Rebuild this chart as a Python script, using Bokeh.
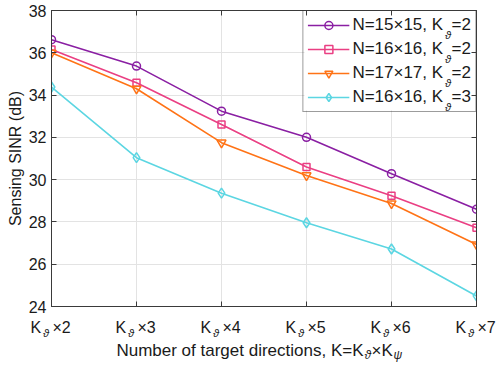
from bokeh.plotting import figure
from bokeh.layouts import column
from bokeh.models import (Range1d, FixedTicker, LinearAxis, Label, Legend, LegendItem,
                          BoxAnnotation)
from bokeh.embed import file_html
from bokeh.resources import INLINE

# ---- data ----
k_psi_values = [2, 3, 4, 5, 6, 7]
tick_labels_suffix = ["\u00d72", "\u00d73", "\u00d74", "\u00d75", "\u00d76", "\u00d77"]
y_ticks = [24, 26, 28, 30, 32, 34, 36, 38]

sinr_n15_k2 = [36.62, 35.37, 33.24, 32.00, 30.28, 28.60]
sinr_n16_k2 = [36.15, 34.58, 32.61, 30.60, 29.24, 27.72]
sinr_n17_k2 = [36.00, 34.30, 31.75, 30.20, 28.87, 26.93]
sinr_n16_k3 = [34.38, 31.04, 29.36, 27.96, 26.72, 24.50]

legend_n = ["N=15\u00d715, K", "N=16\u00d716, K", "N=17\u00d717, K", "N=16\u00d716, K"]
legend_k = ["=2", "=2", "=2", "=3"]

FONT = "Liberation Sans"
TXT = "#1a1a1a"
AX = "#3a3a3a"
W, H = 498, 366
BL, BR, BT, BB = 51, 22, 10, 10
FH = 296
PH = BT + FH + BB
FW = W - BL - BR
XH = H - PH
px = 5.0 / FW    # x data units per pixel
py = 14.0 / FH   # y data units per pixel

p = figure(width=W, height=PH, x_range=Range1d(2, 7), y_range=Range1d(24, 38),
           output_backend="svg", toolbar_location=None,
           min_border_left=BL, min_border_right=BR, min_border_top=BT, min_border_bottom=BB)
p.frame_align = False
p.title.visible = False
p.background_fill_color = "white"
p.outline_line_color = AX
p.outline_line_width = 1

for ax in (p.xaxis[0], p.yaxis[0]):
    ax.axis_line_color = AX
    ax.major_tick_line_color = AX
    ax.major_tick_in = 5
    ax.major_tick_out = 0
    ax.minor_tick_line_color = None
    ax.major_label_text_font = FONT
    ax.major_label_text_color = TXT

p.xaxis.ticker = FixedTicker(ticks=k_psi_values)
p.xaxis.major_label_text_font_size = "0px"
p.xaxis.major_label_text_color = None
p.xaxis.major_label_standoff = 0
p.yaxis.ticker = FixedTicker(ticks=y_ticks)
p.yaxis.major_label_text_font_size = "16px"
p.yaxis.major_label_standoff = 5
p.yaxis.axis_label = "Sensing SINR (dB)"
p.yaxis.axis_label_text_font = FONT
p.yaxis.axis_label_text_font_size = "16px"
p.yaxis.axis_label_text_font_style = "normal"
p.yaxis.axis_label_text_color = TXT
p.yaxis.axis_label_standoff = 2

p.xgrid.ticker = FixedTicker(ticks=k_psi_values)
p.ygrid.ticker = FixedTicker(ticks=y_ticks)
for g in (p.xgrid[0], p.ygrid[0]):
    g.grid_line_color = "#e3e3e3"
    g.grid_line_width = 1

# box ticks on top/right
for place, ticks in (("right", y_ticks), ("above", k_psi_values)):
    a = LinearAxis(ticker=FixedTicker(ticks=ticks), major_label_text_font_size="0px",
                   major_label_text_color=None,
                   major_label_standoff=0, major_tick_in=5, major_tick_out=0,
                   minor_tick_line_color=None, axis_line_color=AX, major_tick_line_color=AX)
    p.add_layout(a, place)

# white backing for the legend (legend itself is drawn transparent so subscripts show)
LW, LH = 172, 100
p.add_layout(BoxAnnotation(left=7 - LW * px, right=7, bottom=38 - LH * py, top=38,
                           fill_color="white", fill_alpha=1, line_color=None,
                           level="underlay"))

colors = ["#8a1fa3", "#ea3f83", "#ff7316", "#5cd6e2"]
markers = ["circle", "square", "inverted_triangle", "diamond"]
sizes = [8, 7, 9, 10]
series = [sinr_n15_k2, sinr_n16_k2, sinr_n17_k2, sinr_n16_k3]

items = []
for ys, c, m, s, ln, lk in zip(series, colors, markers, sizes, legend_n, legend_k):
    r1 = p.line(k_psi_values, ys, line_color=c, line_width=1.6)
    r2 = p.scatter(k_psi_values, ys, marker=m, size=s, line_color=c, line_width=1.5,
                   fill_color=None)
    items.append(LegendItem(label=ln + "\u2002" + lk, renderers=[r1, r2]))

legend = Legend(items=items, location="top_right", margin=0, padding=4, spacing=4,
                glyph_width=42, glyph_height=20, label_standoff=3, label_height=20,
                label_text_font=FONT, label_text_font_size="17px", label_text_color=TXT,
                border_line_color=AX, border_line_width=1, background_fill_alpha=0)
p.add_layout(legend)

# subscript theta in legend (anchored at top-right data corner)
for i in range(len(items)):
    p.add_layout(Label(x=7, y=38, x_offset=-4 - 19.4 - 8.5 + 0.5,
                       y_offset=-(14 + 24 * i) - 10, text="\u03d1",
                       text_font=FONT, text_font_style="italic", text_font_size="11px",
                       text_color=TXT, text_align="left", text_baseline="alphabetic"))

# ---- strip below the plot for subscripted x tick labels and axis label ----
xf = figure(width=W, height=XH, x_range=Range1d(2 - BL * px, 7 + BR * px),
            y_range=Range1d(-XH, 0), output_backend="svg", toolbar_location=None,
            min_border=0, x_axis_location=None, y_axis_location=None)
xf.frame_align = False
xf.title.visible = False
xf.outline_line_color = None
xf.xgrid.visible = False
xf.ygrid.visible = False
xf.background_fill_color = "white"

for xv, suf in zip(k_psi_values, tick_labels_suffix):
    xf.add_layout(Label(x=xv, y=-11, x_offset=-21, text="K", text_font=FONT,
                        text_font_size="16px", text_color=TXT,
                        text_align="left", text_baseline="alphabetic"))
    xf.add_layout(Label(x=xv, y=-16, x_offset=-8.5, text="\u03d1", text_font=FONT,
                        text_font_style="italic", text_font_size="11px", text_color=TXT,
                        text_align="left", text_baseline="alphabetic"))
    xf.add_layout(Label(x=xv, y=-11, x_offset=1, text=suf, text_font=FONT,
                        text_font_size="16px", text_color=TXT,
                        text_align="left", text_baseline="alphabetic"))

A = 2 + 312 * px
xf.add_layout(Label(x=A, y=-33.5, text="Number of target directions, K=K", text_font=FONT,
                    text_font_size="17px", text_color=TXT, text_align="right",
                    text_baseline="alphabetic"))
xf.add_layout(Label(x=A, y=-38.5, x_offset=1, text="\u03d1", text_font=FONT,
                    text_font_style="italic", text_font_size="12px", text_color=TXT,
                    text_align="left", text_baseline="alphabetic"))
xf.add_layout(Label(x=A, y=-33.5, x_offset=8, text="\u00d7K", text_font=FONT,
                    text_font_size="17px", text_color=TXT,
                    text_align="left", text_baseline="alphabetic"))
xf.add_layout(Label(x=A, y=-38.5, x_offset=30, text="\u03c8", text_font=FONT,
                    text_font_style="italic", text_font_size="12px", text_color=TXT,
                    text_align="left", text_baseline="alphabetic"))

layout = column(p, xf, spacing=0)
open("out.html", "w").write(file_html(layout, INLINE))
